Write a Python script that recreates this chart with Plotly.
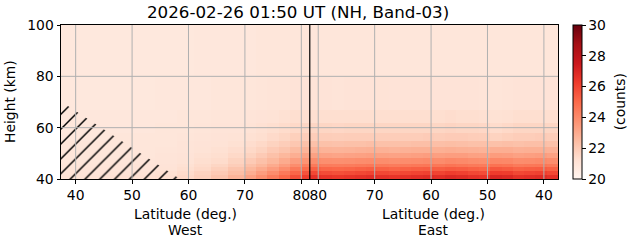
import plotly.graph_objects as go

# ---------------- data ----------------
pole_u = 81.5          # along-track coordinate of the highest-latitude point
x_min, x_max = 37.4, 125.5
y_min, y_max = 40, 100

# column edges: west side in latitude (= coordinate), east side in latitude
west_lat_edges = [37.4, 46, 54, 58, 61, 64, 67, 70, 72, 74, 76, 78, 80, 81.5]
east_lat_edges = [81.5, 79.5, 77.5, 75.5, 73.5, 71.5, 69.5, 67.5, 65.5, 63.5, 61.5,
                  59.5, 57.5, 55.5, 53.5, 51.5, 49.5, 47.5, 45.5, 43.5, 41.5, 39.5, 37.5]
height_edges = [40, 41.5, 43, 44.5, 46, 48, 50, 52.5, 55, 58, 62, 67, 80, 100]

# counts per height row (bottom -> top): 13 west columns then 22 east columns
counts_west = [
    [21.1, 21.2, 21.3, 21.5, 21.8, 22.2, 22.7, 23.3, 23.8, 24.4, 25.0, 25.7, 26.2],
    [21.0, 21.1, 21.2, 21.4, 21.7, 22.0, 22.4, 22.9, 23.4, 23.9, 24.5, 25.1, 25.6],
    [21.0, 21.0, 21.1, 21.3, 21.5, 21.8, 22.2, 22.6, 23.0, 23.4, 23.9, 24.5, 24.9],
    [20.95, 21.0, 21.05, 21.2, 21.4, 21.6, 21.9, 22.3, 22.6, 23.0, 23.4, 23.9, 24.3],
    [20.9, 20.95, 21.0, 21.1, 21.3, 21.4, 21.7, 22.0, 22.3, 22.6, 23.0, 23.4, 23.7],
    [20.9, 20.9, 21.0, 21.05, 21.2, 21.3, 21.5, 21.7, 22.0, 22.3, 22.6, 22.9, 23.2],
    [20.9, 20.9, 20.95, 21.0, 21.1, 21.2, 21.35, 21.5, 21.7, 22.0, 22.2, 22.5, 22.7],
    [20.9, 20.9, 20.9, 21.0, 21.05, 21.1, 21.2, 21.35, 21.5, 21.7, 21.9, 22.1, 22.3],
    [20.85, 20.9, 20.9, 20.95, 21.0, 21.05, 21.1, 21.2, 21.3, 21.45, 21.6, 21.8, 21.9],
    [20.85, 20.85, 20.9, 20.9, 20.95, 21.0, 21.0, 21.1, 21.2, 21.3, 21.4, 21.5, 21.6],
    [20.85, 20.85, 20.85, 20.9, 20.9, 20.95, 20.95, 21.0, 21.05, 21.1, 21.2, 21.3, 21.3],
    [20.8, 20.8, 20.85, 20.85, 20.85, 20.9, 20.9, 20.9, 20.95, 21.0, 21.0, 21.05, 21.05],
    [20.8, 20.8, 20.8, 20.8, 20.85, 20.85, 20.85, 20.85, 20.9, 20.9, 20.9, 20.9, 20.9],
]
counts_east = [
    [26.6, 26.5, 26.4, 26.5, 26.6, 26.7, 26.6, 26.5, 26.6, 26.7, 26.8, 26.7, 26.9, 26.8, 26.6, 26.5, 27.0, 26.9, 26.6, 26.7, 26.8, 26.6],
    [25.9, 25.8, 25.7, 25.8, 25.9, 26.0, 25.9, 25.8, 25.9, 26.0, 26.1, 26.0, 26.2, 26.1, 25.9, 25.8, 26.25, 26.2, 25.9, 26.0, 26.1, 25.9],
    [25.2, 25.1, 25.05, 25.1, 25.2, 25.3, 25.2, 25.1, 25.2, 25.3, 25.35, 25.3, 25.4, 25.35, 25.2, 25.1, 25.5, 25.4, 25.2, 25.3, 25.35, 25.2],
    [24.5, 24.45, 24.4, 24.45, 24.5, 24.55, 24.5, 24.45, 24.5, 24.55, 24.6, 24.55, 24.7, 24.6, 24.5, 24.45, 24.75, 24.7, 24.5, 24.55, 24.6, 24.5],
    [23.9, 23.85, 23.8, 23.85, 23.9, 23.95, 23.9, 23.85, 23.9, 23.95, 24.0, 23.95, 24.05, 24.0, 23.9, 23.85, 24.1, 24.05, 23.9, 23.95, 24.0, 23.9],
    [23.3, 23.25, 23.2, 23.25, 23.3, 23.35, 23.3, 23.25, 23.3, 23.35, 23.4, 23.35, 23.4, 23.4, 23.3, 23.25, 23.45, 23.4, 23.3, 23.35, 23.4, 23.3],
    [22.8, 22.75, 22.7, 22.75, 22.8, 22.85, 22.8, 22.75, 22.8, 22.85, 22.85, 22.85, 22.9, 22.85, 22.8, 22.75, 22.9, 22.9, 22.8, 22.85, 22.85, 22.8],
    [22.3, 22.3, 22.25, 22.3, 22.3, 22.35, 22.3, 22.3, 22.3, 22.35, 22.35, 22.35, 22.4, 22.35, 22.3, 22.3, 22.3, 22.35, 22.3, 22.35, 22.35, 22.3],
    [21.9, 21.9, 21.85, 21.9, 21.9, 21.9, 21.9, 21.9, 21.9, 21.9, 21.95, 21.9, 21.95, 21.95, 21.9, 21.85, 21.7, 21.8, 21.9, 21.9, 21.95, 21.9],
    [21.6, 21.6, 21.55, 21.6, 21.6, 21.6, 21.6, 21.6, 21.6, 21.6, 21.6, 21.6, 21.65, 21.6, 21.6, 21.55, 21.4, 21.5, 21.6, 21.6, 21.6, 21.6],
    [21.3, 21.3, 21.3, 21.3, 21.3, 21.3, 21.3, 21.3, 21.3, 21.3, 21.3, 21.3, 21.35, 21.3, 21.3, 21.25, 21.15, 21.2, 21.3, 21.3, 21.3, 21.3],
    [21.05, 21.05, 21.0, 21.05, 21.05, 21.05, 21.1, 21.05, 21.05, 21.05, 21.05, 21.05, 21.05, 21.05, 21.05, 21.0, 20.95, 21.0, 21.05, 21.05, 21.05, 21.05],
    [20.9, 20.9, 20.9, 20.9, 20.9, 20.9, 20.9, 20.9, 20.9, 20.9, 20.9, 20.9, 20.9, 20.9, 20.9, 20.9, 20.9, 20.9, 20.9, 20.9, 20.9, 20.9],
]

# hatched (no-data) region: latitude / height polygon on the west side
hatch_lat = [37.4, 37.4, 58.5]
hatch_height = [40, 70.2, 40]

west_tick_lat = [40, 50, 60, 70, 80]
east_tick_lat = [80, 70, 60, 50, 40]
height_ticks = [40, 60, 80, 100]
cbar_ticks = [20, 22, 24, 26, 28, 30]
z_min, z_max = 20, 30

title_text = "2026-02-26 01:50 UT (NH, Band-03)"

# ---------------- build ----------------
x_edges = west_lat_edges + [2 * pole_u - v for v in east_lat_edges[1:]]
z = [w + e for w, e in zip(counts_west, counts_east)]

reds = [[0.0, "#fff5f0"], [0.125, "#fee0d2"], [0.25, "#fcbba1"], [0.375, "#fc9272"],
        [0.5, "#fb6a4a"], [0.625, "#ef3b2c"], [0.75, "#cb181d"], [0.875, "#a50f15"],
        [1.0, "#67000d"]]

FONT = "DejaVu Sans"
FS = 13.9

fig = go.Figure()
fig.add_trace(go.Heatmap(
    x=x_edges, y=height_edges, z=z, zmin=z_min, zmax=z_max, colorscale=reds,
    colorbar=dict(
        thickness=9, len=1, lenmode="fraction", y=0.5, yanchor="middle",
        x=1.0294, xanchor="left", xpad=0, ypad=0,
        outlinewidth=1, outlinecolor="black",
        tickvals=cbar_ticks, ticks="outside", ticklen=3.5, tickwidth=1, tickcolor="black",
        tickfont=dict(family=FONT, size=FS, color="black"),
    ),
    hoverinfo="skip",
))

fig.add_trace(go.Scatter(
    x=hatch_lat + [hatch_lat[0]], y=hatch_height + [hatch_height[0]],
    mode="lines", line=dict(width=0, color="rgba(0,0,0,0)"),
    fill="toself", fillcolor="rgba(0,0,0,0)",
    fillpattern=dict(shape="/", size=10.5, solidity=0.14, fgcolor="black", fgopacity=1,
                     bgcolor="rgba(0,0,0,0)", fillmode="overlay"),
    hoverinfo="skip", showlegend=False,
))

x_tickvals = west_tick_lat + [2 * pole_u - v for v in east_tick_lat]
x_ticktext = [str(v) for v in west_tick_lat + east_tick_lat]

shapes = []
for xv in x_tickvals:
    shapes.append(dict(type="line", xref="x", yref="y", x0=xv, x1=xv, y0=y_min, y1=y_max,
                       line=dict(color="#b0b0b0", width=1), layer="above"))
for yv in height_ticks[1:-1]:
    shapes.append(dict(type="line", xref="x", yref="y", x0=x_min, x1=x_max, y0=yv, y1=yv,
                       line=dict(color="#b0b0b0", width=1), layer="above"))
shapes.append(dict(type="line", xref="x", yref="y", x0=pole_u, x1=pole_u, y0=y_min, y1=y_max,
                   line=dict(color="black", width=1.2), layer="above"))

west_center = (x_min + pole_u) / 2
east_center = (pole_u + x_max) / 2
annotations = [
    dict(text="Latitude (deg.)", x=west_center, xref="x", y=0, yref="paper", yanchor="middle",
         yshift=-35, showarrow=False, font=dict(family=FONT, size=FS, color="black")),
    dict(text="West", x=west_center, xref="x", y=0, yref="paper", yanchor="middle",
         yshift=-51, showarrow=False, font=dict(family=FONT, size=FS, color="black")),
    dict(text="Latitude (deg.)", x=east_center, xref="x", y=0, yref="paper", yanchor="middle",
         yshift=-35, showarrow=False, font=dict(family=FONT, size=FS, color="black")),
    dict(text="East", x=east_center, xref="x", y=0, yref="paper", yanchor="middle",
         yshift=-51, showarrow=False, font=dict(family=FONT, size=FS, color="black")),
    dict(text="Height (km)", x=0, xref="paper", xanchor="center", xshift=-51,
         y=0.5, yref="paper", yanchor="middle", textangle=-90, showarrow=False,
         font=dict(family=FONT, size=FS, color="black")),
    dict(text="(counts)", x=1, xref="paper", xanchor="center", xshift=62.3,
         y=0.5, yref="paper", yanchor="middle", textangle=-90, showarrow=False,
         font=dict(family=FONT, size=FS, color="black")),
    dict(text=title_text, x=0.4778, xref="paper", xanchor="center", y=1, yref="paper",
         yanchor="middle", yshift=13, showarrow=False,
         font=dict(family=FONT, size=16.7, color="black")),
]

fig.update_layout(
    width=631, height=243,
    margin=dict(l=61, r=73.3, t=25, b=64, autoexpand=False),
    paper_bgcolor="white", plot_bgcolor="white",
    font=dict(family=FONT, size=FS, color="black"),
    shapes=shapes, annotations=annotations, showlegend=False,
    xaxis=dict(range=[x_min, x_max], tickvals=x_tickvals, ticktext=x_ticktext, tickangle=0,
               ticks="outside", ticklen=3.5, tickwidth=1, tickcolor="black",
               showgrid=False, zeroline=False, showline=True, linecolor="black",
               linewidth=1, mirror=True, layer="above traces",
               tickfont=dict(family=FONT, size=FS, color="black")),
    yaxis=dict(range=[y_min, y_max], tickvals=height_ticks,
               ticks="outside", ticklen=3.5, tickwidth=1, tickcolor="black",
               showgrid=False, zeroline=False, showline=True, linecolor="black",
               linewidth=1, mirror=True, layer="above traces",
               tickfont=dict(family=FONT, size=FS, color="black")),
)

fig.write_html("out.html")
